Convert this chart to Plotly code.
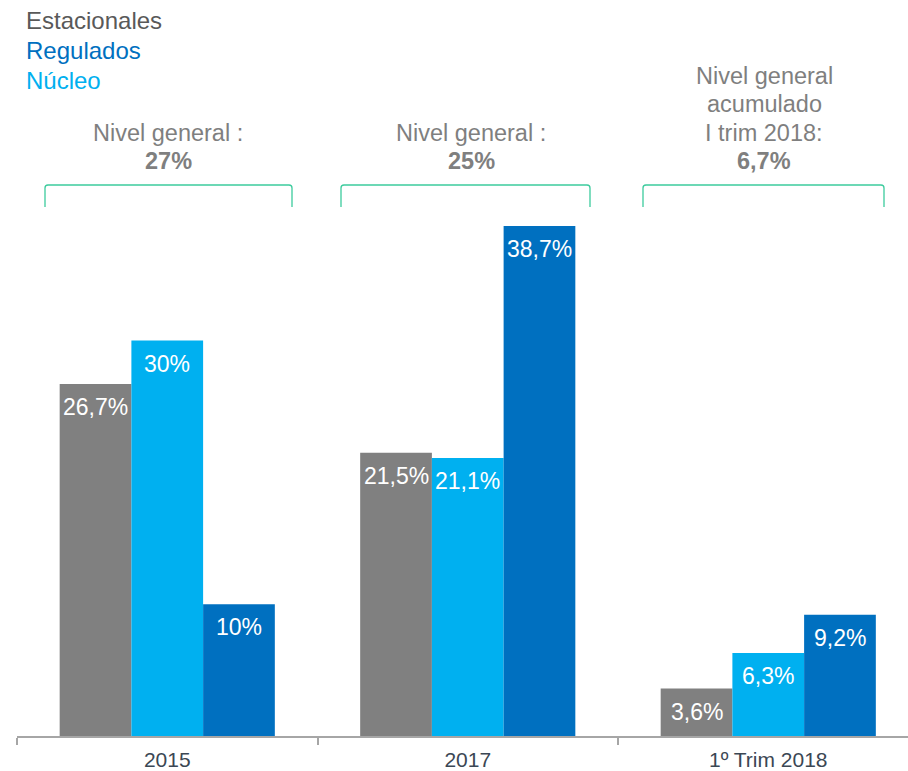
import plotly.graph_objects as go

# ---------------------------------------------------------------
# Data
# ---------------------------------------------------------------
categories = ["2015", "2017", "1º Trim 2018"]
estacionales = [26.7, 21.5, 3.6]
nucleo = [30.0, 21.1, 6.3]
regulados = [10.0, 38.7, 9.2]

headers = [
    ["Nivel general :", "<b>27%</b>"],
    ["Nivel general :", "<b>25%</b>"],
    ["Nivel general", "acumulado", "I trim 2018:", "<b>6,7%</b>"],
]

legend_items = [("Estacionales", "#595959"), ("Regulados", "#0070C0"), ("Núcleo", "#00B0F0")]

# ---------------------------------------------------------------
# Layout constants (pixels of the 908x771 canvas)
# ---------------------------------------------------------------
W, H = 908, 771
ML, MB = 17, 35
PW, PH = W - ML, H - MB
FONT = "Liberation Sans, Arial, sans-serif"
GRAY, LIGHT, DARK = "#808080", "#00B0F0", "#0070C0"
BRACKET = "#3ccb9d"


def px(x):
    return (x - ML) / PW


def py(y):
    return (PH - y) / PH


def fmt(v):
    return f"{v:g}".replace(".", ",") + "%"


fig = go.Figure()
series = [(estacionales, GRAY, -1), (nucleo, LIGHT, 0), (regulados, DARK, 1)]
for vals, col, _ in series:
    fig.add_trace(go.Bar(x=categories, y=vals, marker=dict(color=col, line=dict(width=0)),
                         showlegend=False, hoverinfo="skip"))

annotations = []
for vals, col, off in series:
    for i, v in enumerate(vals):
        annotations.append(dict(x=i, y=v, xref="x", yref="y", text=fmt(v), showarrow=False,
                                xshift=off * 71.6, yshift=-23, yanchor="middle",
                                font=dict(family=FONT, size=23, color="white")))

# header texts above each group (one annotation per line, last line centred at y=161)
header_x = [168, 471, 764]
for hx, lines in zip(header_x, headers):
    n = len(lines)
    for k, t in enumerate(lines):
        annotations.append(dict(x=px(hx), y=py(161 - 28.5 * (n - 1 - k)), xref="paper", yref="paper",
                                text=t, showarrow=False, xanchor="center", yanchor="middle",
                                font=dict(family=FONT, size=23.5, color="#7f7f7f")))

# legend as coloured text
for i, (name, col) in enumerate(legend_items):
    annotations.append(dict(x=px(24), y=py(20 + 30 * i), xref="paper", yref="paper", text=name,
                            showarrow=False, xanchor="left", yanchor="middle",
                            font=dict(family=FONT, size=24, color=col)))

# brackets
shapes = []
brackets = [(45, 292), (341, 590), (643, 884)]
top, bot, r = 185, 207, 3
for x0, x1 in brackets:
    path = (f"M {px(x0)},{py(bot)} L {px(x0)},{py(top + r)} Q {px(x0)},{py(top)} {px(x0 + r)},{py(top)} "
            f"L {px(x1 - r)},{py(top)} Q {px(x1)},{py(top)} {px(x1)},{py(top + r)} L {px(x1)},{py(bot)}")
    shapes.append(dict(type="path", path=path, xref="paper", yref="paper",
                       line=dict(color=BRACKET, width=1.3)))

fig.update_layout(
    width=W, height=H, autosize=False,
    margin=dict(l=ML, r=0, t=0, b=MB),
    paper_bgcolor="white", plot_bgcolor="white",
    barmode="group", bargap=0.284, bargroupgap=0,
    annotations=annotations, shapes=shapes,
    xaxis=dict(type="category", range=[-0.5, -0.5 + PW / 300.5], showline=True,
               linecolor="#a6a6a6", linewidth=1.5, ticks="outside", tickson="boundaries",
               ticklen=7, tickcolor="#a6a6a6", tickwidth=1.5, showgrid=False,
               ticklabelstandoff=4,
               tickfont=dict(family=FONT, size=21, color="#3b4754")),
    yaxis=dict(visible=False, range=[0, PH / 13.18], showgrid=False, zeroline=False),
)

# drop the default page margin so the figure sits at the window's top-left corner
fig.write_html("out.html", config={"displayModeBar": False},
               post_script="document.body.style.margin='0';")
